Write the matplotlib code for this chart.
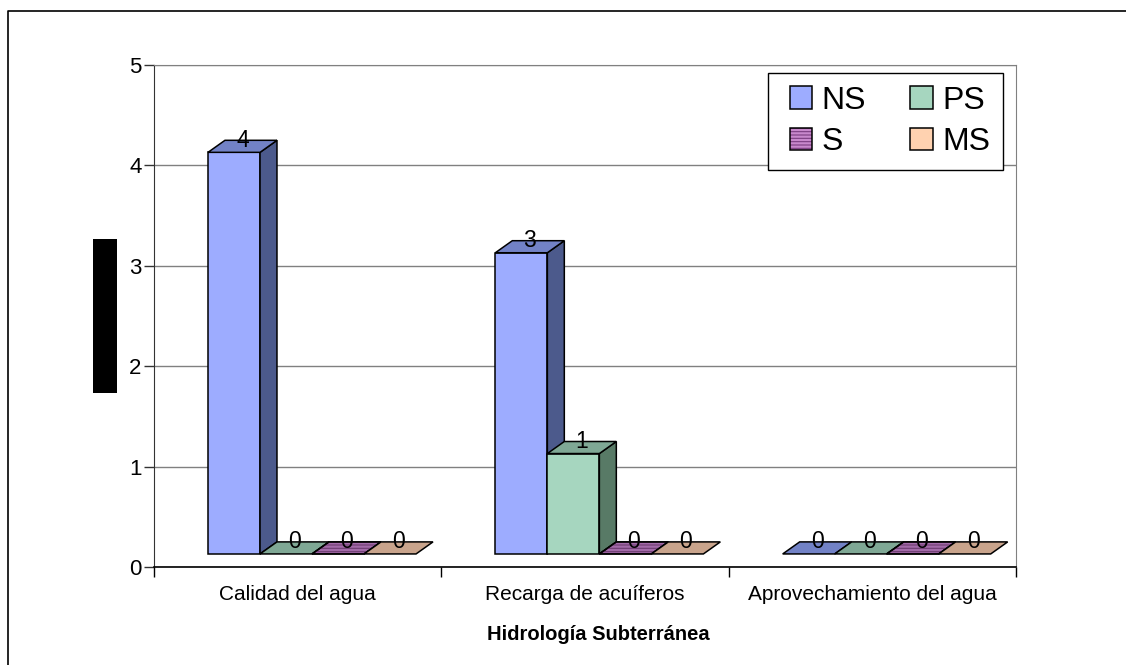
import matplotlib
matplotlib.use("Agg")
import matplotlib.pyplot as plt
from matplotlib.patches import Polygon, Patch, Rectangle
from matplotlib.lines import Line2D
from matplotlib.legend_handler import HandlerPatch

# Datos del gráfico
categorias = ["Calidad del agua", "Recarga de acuíferos", "Aprovechamiento del agua"]
series = ["NS", "PS", "S", "MS"]
ns = [4, 3, 0]
ps = [0, 1, 0]
s = [0, 0, 0]
ms = [0, 0, 0]
valores = [ns, ps, s, ms]

# Colores de cada serie: frente, lado, arriba
colores = {
    "NS": ("#9dacff", "#4c5a8c", "#7282c6"),
    "PS": ("#a6d6bf", "#587a66", "#7fa895"),
    "S": ("#c888cc", "#6e3c72", "#a26aa8"),
    "MS": ("#ffd2b0", "#8c6f5c", "#c9a48c"),
}

# Geometría de las barras en unidades de datos
ANCHO = 0.181
MARGEN = 0.188
DX = 0.059
DY = 0.12
BASE = 0.13

plt.rcParams['font.family'] = ['Liberation Sans', 'DejaVu Sans']
plt.rcParams['hatch.linewidth'] = 0.8


def Barra3D(ax, x0, valor, color, z, rayas=False):
    frente, lado, arriba = color
    y0 = BASE
    y1 = BASE + valor
    estilo = dict(edgecolor="black", linewidth=1.1, zorder=z)
    if valor > 0:
        ax.add_patch(Polygon([(x0, y0), (x0 + ANCHO, y0), (x0 + ANCHO, y1), (x0, y1)],
                             facecolor=frente, **estilo))
        ax.add_patch(Polygon([(x0 + ANCHO, y0), (x0 + ANCHO + DX, y0 + DY),
                              (x0 + ANCHO + DX, y1 + DY), (x0 + ANCHO, y1)],
                             facecolor=lado, **estilo))
    tapa = [(x0, y1), (x0 + DX, y1 + DY), (x0 + ANCHO + DX, y1 + DY), (x0 + ANCHO, y1)]
    ax.add_patch(Polygon(tapa, facecolor=arriba, **estilo))
    if rayas:
        ax.add_patch(Polygon(tapa, facecolor="none", edgecolor="#6e3c72", linewidth=0,
                             hatch="-----", zorder=z + 0.1))
        ax.add_patch(Polygon(tapa, facecolor="none", **dict(estilo, zorder=z + 0.2)))
    ax.text(x0 + ANCHO / 2 + DX / 2, y1 + DY, str(valor), ha="center", va="center",
            fontsize=16.5, zorder=50)


def Cuadrado(legend, orig_handle, xdescent, ydescent, width, height, fontsize):
    # Cuadro de la leyenda pegado a la derecha del hueco
    return Rectangle((-xdescent + width - height, -ydescent), height, height)


def Grafico():
    fig = plt.figure(figsize=(11.26, 6.65), dpi=100)
    ax = fig.add_axes([154 / 1126, 1 - 567 / 665, 862 / 1126, 502 / 665])

    # Barras 3D, de izquierda a derecha
    z = 3
    for c in range(len(categorias)):
        for i, nombre in enumerate(series):
            x0 = c + MARGEN + i * ANCHO
            Barra3D(ax, x0, valores[i][c], colores[nombre], z, rayas=(nombre == "S"))
            z += 1

    # Ejes y rejilla
    ax.set_xlim(0, 3)
    ax.set_ylim(0, 5)
    ax.set_yticks(range(6))
    ax.yaxis.grid(True, color="#808080", linewidth=1.0)
    ax.set_axisbelow(True)
    ax.tick_params(axis="y", direction="out", length=7, width=1, color="#333333",
                   labelsize=16, pad=2)
    ax.set_xticks(range(4))
    ax.set_xticklabels([])
    ax.tick_params(axis="x", which="major", direction="out", length=7, width=1, color="black")
    ax.set_xticks([c + 0.5 for c in range(len(categorias))], minor=True)
    ax.set_xticklabels(categorias, minor=True, fontsize=15)
    ax.tick_params(axis="x", which="minor", length=0, pad=13)
    ax.spines["left"].set_color("#333333")
    ax.spines["bottom"].set_color("black")
    ax.spines["bottom"].set_linewidth(1.2)
    ax.spines["top"].set_color("#808080")
    ax.spines["right"].set_color("#808080")

    # Leyenda (dos filas: NS PS / S MS)
    manijas = {}
    for nombre in series:
        frente = colores[nombre][0]
        if nombre == "S":
            manijas[nombre] = (Patch(facecolor=frente, edgecolor="#7a3c80", hatch="-----", linewidth=0),
                               Patch(facecolor="none", edgecolor="black", linewidth=1.1))
        else:
            manijas[nombre] = Patch(facecolor=frente, edgecolor="black", linewidth=1.1)
    orden = ["NS", "S", "PS", "MS"]
    ley = ax.legend([manijas[n] for n in orden], orden, ncol=2, loc="upper right",
                    bbox_to_anchor=(0.985, 0.984), borderaxespad=0, fontsize=23,
                    handlelength=0.98, handleheight=0.7, handletextpad=0.3,
                    columnspacing=1.1, labelspacing=0.35, borderpad=0.4,
                    fancybox=False, framealpha=1,
                    handler_map={Patch: HandlerPatch(patch_func=Cuadrado)})
    ley.get_frame().set_edgecolor("black")
    ley.get_frame().set_linewidth(1.0)
    ley.set_zorder(60)

    # Título del eje x
    fig.text(598 / 1126, 1 - 635 / 665, "Hidrología Subterránea", ha="center", va="center",
             fontsize=14.5, fontweight="bold")

    # Recuadro negro a la izquierda
    fig.patches.append(Rectangle((93 / 1126, 1 - 393 / 665), 24 / 1126, 154 / 665,
                                 transform=fig.transFigure, facecolor="black", edgecolor="none"))

    # Marco superior e izquierdo
    fig.lines.append(Line2D([8 / 1126, 8 / 1126, 1], [0, 1 - 11 / 665, 1 - 11 / 665],
                            transform=fig.transFigure, color="black", linewidth=1.2))

    fig.savefig("out.png", dpi=100)


if __name__ == "__main__":
    Grafico()
